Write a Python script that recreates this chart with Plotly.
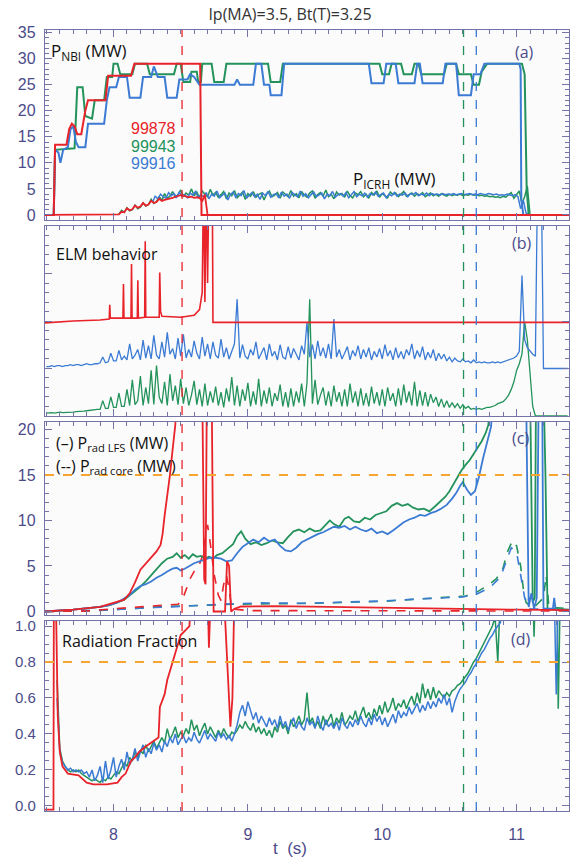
import numpy as np
import plotly.graph_objects as go
from plotly.subplots import make_subplots

RED = "#e8232a"
GREEN = "#23925b"
BLUE = "#3b7bd4"
ORANGE = "#f6a531"
AXC = "#7474a8"
TXC = "#4b4b8a"

t_range = [7.49, 11.39]
event_t = [8.51, 10.605, 10.70]

# ---------------- panel (a): P_NBI (MW) step traces (t, MW)
nbi_red = [(7.49, 0), (7.555, 0), (7.565, 13.5), (7.65, 13.5), (7.67, 16.5), (7.69, 17.5), (7.71, 17.0),
           (7.73, 15.5), (7.76, 15.5), (7.79, 20.0), (7.81, 22.0), (7.94, 22.0), (7.96, 26.7), (8.13, 26.7),
           (8.155, 29.0), (8.645, 29.0), (8.655, 0), (11.39, 0)]
nbi_green = [(7.49, 0), (7.555, 0), (7.565, 12.5), (7.71, 12.8), (7.73, 24.5), (7.77, 24.5), (7.79, 19.0),
             (7.84, 18.5), (7.86, 22.0), (7.93, 22.0), (7.95, 26.5), (7.99, 26.5), (8.00, 29.0), (8.03, 29.0),
             (8.05, 27.0), (8.14, 27.0), (8.16, 29.0), (8.25, 29.0), (8.27, 27.0), (8.45, 27.0), (8.47, 29.0),
             (8.50, 29.0), (8.52, 25.5), (8.57, 25.5), (8.58, 27.5), (8.62, 27.5), (8.63, 25.5), (8.65, 25.5),
             (8.66, 29.0), (8.73, 29.0), (8.75, 25.5), (8.82, 25.5), (8.84, 29.0), (9.15, 29.0), (9.17, 25.5),
             (9.24, 25.5), (9.26, 29.0), (9.98, 29.0), (10.00, 27.0), (10.05, 27.0), (10.07, 29.0), (10.14, 29.0),
             (10.16, 27.0), (10.22, 27.0), (10.24, 29.0), (10.27, 29.0), (10.29, 27.0), (10.46, 27.0),
             (10.48, 29.0), (10.55, 29.0), (10.57, 27.0), (10.66, 27.0), (10.68, 25.0), (10.72, 25.0),
             (10.74, 27.5), (10.78, 29.0), (11.04, 29.0), (11.06, 27.0), (11.075, 5.0), (11.09, 0), (11.39, 0)]
nbi_blue = [(7.49, 0), (7.555, 0), (7.565, 12.5), (7.59, 12.0), (7.605, 10.0), (7.625, 12.5), (7.66, 13.0),
            (7.68, 16.5), (7.70, 17.0), (7.72, 14.0), (7.74, 13.0), (7.79, 13.0), (7.81, 17.5), (7.93, 17.5),
            (7.95, 22.0), (7.97, 24.5), (8.02, 24.5), (8.04, 26.5), (8.10, 26.5), (8.12, 22.5), (8.20, 22.5),
            (8.22, 26.5), (8.28, 26.5), (8.30, 28.5), (8.33, 26.5), (8.38, 26.5), (8.40, 22.5), (8.47, 22.5),
            (8.49, 26.0), (8.55, 26.0), (8.57, 27.0), (8.60, 26.5), (8.64, 25.0), (8.90, 25.0), (8.92, 26.0),
            (8.94, 25.0), (9.04, 25.0), (9.06, 29.0), (9.10, 29.0), (9.12, 25.0), (9.16, 25.0), (9.17, 23.0),
            (9.25, 23.0), (9.27, 29.0), (9.90, 29.0), (9.92, 25.3), (10.01, 25.3), (10.03, 29.0), (10.10, 29.0),
            (10.12, 25.3), (10.24, 25.3), (10.26, 29.0), (10.28, 29.0), (10.30, 25.3), (10.45, 25.3),
            (10.47, 29.0), (10.55, 29.0), (10.57, 23.0), (10.66, 23.0), (10.68, 27.0), (10.73, 27.0),
            (10.76, 29.0), (11.02, 29.0), (11.03, 28.0), (11.035, 3.0), (11.05, 0), (11.39, 0)]

# ---------------- panel (a): P_ICRH (MW), sampled traces
icrh_red_start, icrh_red_step = 8.04, 0.02
icrh_red = [0.1, 0.6, 0.5, 1.3, 0.9, 1.1, 1.8, 1.4, 1.6, 2.3, 1.8, 2.0, 2.7, 2.3, 2.5, 3.1, 2.7, 2.9,
            3.0, 3.2, 3.3, 3.5, 3.6, 3.8, 3.7, 3.6, 3.4, 3.5, 3.3, 3.4, 3.3, 2.6, 3.9, 0.0]
icrh_red_edges = [(7.49, 0.0), (11.39, 0.0)]
icrh_green_start, icrh_green_step = 8.04, 0.02
icrh_green = [0.2, 0.9, 0.5, 1.4, 0.8, 1.0, 1.9, 1.2, 1.5, 2.3,
              1.7, 2.0, 3.0, 2.2, 2.6, 3.5, 2.8, 4.1, 3.2, 3.6,
              4.5, 3.4, 3.9, 4.8, 3.6, 4.2, 3.8, 5.0, 3.7, 4.4,
              3.3, 4.6, 4.0, 3.5, 4.9, 3.8, 4.3, 3.4, 3.9, 4.5,
              3.1, 4.2, 3.7, 4.7, 3.3, 3.8, 4.4, 3.0, 4.1, 3.6,
              4.5, 3.4, 3.9, 4.2, 2.9, 4.0, 4.6, 3.5, 3.8, 4.3,
              3.2, 4.4, 3.9, 3.5, 4.7, 3.6, 4.1, 3.3, 4.5, 3.8,
              3.4, 4.2, 4.6, 3.2, 3.9, 4.3, 3.6, 4.8, 3.5, 4.0,
              3.1, 4.4, 3.8, 4.1, 3.4, 4.6, 3.7, 3.3, 4.2, 3.9,
              4.5, 3.5, 4.0, 3.2, 4.3, 3.8, 4.6, 3.4, 4.1, 3.7,
              3.3, 4.4, 3.9, 4.2, 3.5, 4.0, 4.5, 3.6, 3.9, 4.2,
              3.6, 4.1, 3.8, 4.3, 3.5, 3.9, 4.2, 3.7, 4.0, 3.6,
              4.1, 3.8, 3.6, 4.0, 3.7, 3.9, 3.8, 4.0, 3.7, 3.9,
              3.8, 4.0, 3.8, 3.9, 3.7, 3.8, 3.6, 3.7, 3.5, 3.6,
              3.4, 3.5, 3.3, 3.6, 3.4, 3.9, 4.3, 3.2, 4.0, 4.6,
              2.2, 3.5, 5.5, 0.0]
icrh_blue_start, icrh_blue_step = 8.29, 0.02
icrh_blue = [2.4, 3.6, 3.1, 4.0, 3.5, 3.2, 4.3, 3.7, 4.1, 3.4,
             4.4, 3.6, 3.9, 3.3, 4.2, 3.8, 4.5, 3.4, 3.9, 3.5,
             4.3, 3.1, 4.0, 3.6, 4.6, 3.3, 3.8, 4.2, 2.9, 3.9,
             4.4, 3.4, 4.1, 3.7, 4.7, 3.2, 3.8, 4.3, 3.5, 4.0,
             3.0, 4.2, 3.7, 4.5, 3.4, 3.9, 4.1, 3.3, 4.4, 3.6,
             4.0, 3.2, 4.3, 3.8, 3.5, 4.6, 3.6, 4.1, 3.3, 3.9,
             4.4, 3.5, 3.8, 4.2, 3.1, 4.0, 3.7, 4.5, 3.4, 3.9,
             4.1, 3.6, 4.3, 3.3, 3.9, 4.5, 3.5, 4.0, 3.7, 4.2,
             3.4, 4.1, 3.8, 4.4, 3.6, 3.9, 4.2, 3.3, 4.0, 3.7,
             4.3, 3.6, 4.0, 3.8, 4.2, 3.5, 4.1, 3.9, 4.3, 3.7,
             4.0, 3.8, 4.2, 3.7, 4.1, 3.9, 4.0, 3.8, 4.1, 3.9,
             4.0, 3.9, 4.1, 3.9, 4.0, 4.1, 3.9, 4.0, 4.1, 3.9,
             4.0, 3.9, 4.1, 4.0, 3.9, 4.1, 4.0, 3.9, 4.0, 3.8,
             3.9, 3.8, 4.0, 3.9, 3.7, 3.9, 3.5, 1.2, 2.8, 0.4,
             0.0]

# ---------------- panel (b): ELM behaviour (arb. units)
elm_red = [(7.49, 9.8), (7.70, 10.0), (7.90, 10.1), (7.968, 10.2), (7.972, 11.7), (7.976, 10.3), (8.07, 10.3),
           (8.074, 13.9), (8.078, 10.3), (8.13, 10.3), (8.134, 16.0), (8.138, 10.3), (8.177, 10.3), (8.181, 14.3),
           (8.185, 10.3), (8.232, 10.4), (8.236, 18.4), (8.240, 10.4), (8.340, 10.4), (8.344, 15.1), (8.35, 11.0),
           (8.36, 10.5), (8.50, 10.4), (8.60, 10.6), (8.64, 11.2), (8.66, 13.0), (8.67, 25.0), (8.68, 12.0),
           (8.69, 25.0), (8.70, 14.0), (8.71, 25.0), (8.735, 25.0), (8.74, 9.85), (11.39, 9.85)]
elm_start, elm_step = 7.50, 0.02
elm_blue = [5.2, 5.2, 5.3, 5.2, 5.3, 5.3, 5.2, 5.3, 5.3, 5.4,
            5.3, 5.4, 5.4, 5.3, 5.4, 5.5, 5.4, 5.4, 5.5, 5.5,
            5.6, 6.2, 5.6, 5.7, 6.6, 5.8, 5.8, 6.9, 5.9, 6.3,
            5.9, 7.6, 6.0, 6.4, 7.0, 5.9, 8.0, 6.1, 7.4, 6.0,
            8.5, 6.4, 6.0, 7.8, 6.2, 8.8, 6.5, 7.1, 6.0, 8.2,
            6.3, 8.6, 6.1, 7.0, 6.2, 7.9, 6.6, 6.0, 8.3, 6.3,
            7.6, 6.0, 7.8, 6.4, 6.1, 8.1, 6.2, 7.2, 6.0, 6.8,
            7.6, 12.3, 6.1, 7.5, 6.3, 6.0, 7.0, 6.4, 7.8, 6.0,
            6.6, 7.2, 5.9, 7.6, 6.3, 6.8, 5.9, 7.5, 6.2, 6.0,
            7.3, 6.1, 7.1, 6.4, 5.9, 7.4, 6.5, 9.9, 6.2, 7.5,
            6.0, 7.9, 6.3, 7.2, 6.1, 7.6, 6.0, 10.2, 6.2, 7.0,
            6.0, 6.6, 7.3, 5.9, 6.9, 6.3, 7.4, 6.0, 7.0, 6.2,
            7.2, 5.9, 6.8, 6.2, 7.1, 6.0, 7.5, 6.3, 6.9, 5.9,
            7.2, 6.1, 6.8, 6.0, 7.0, 6.4, 7.6, 6.0, 6.9, 6.2,
            7.3, 5.9, 6.7, 6.1, 7.0, 5.8, 6.6, 6.0, 6.5, 5.8,
            6.2, 5.7, 6.1, 5.8, 5.7, 6.0, 5.7, 5.8, 5.6, 5.9,
            5.6, 5.7, 5.6, 5.7, 5.6, 5.6, 5.7, 5.6, 5.7, 5.6,
            5.7, 5.8, 5.9, 6.0, 6.1, 6.3, 6.8, 14.8, 8.0, 7.2,
            6.8, 6.5, 6.3, 30.0, 30.0, 5.0, 5.0, 5.0, 5.0, 5.0,
            5.0, 5.0, 5.0, 5.0, 5.0]
elm_green = [0.3, 0.35, 0.35, 0.3, 0.35, 0.4, 0.35, 0.35, 0.4, 0.4,
             0.4, 0.45, 0.45, 0.5, 0.5, 0.55, 0.6, 0.6, 0.65, 0.7,
             0.7, 1.6, 0.8, 0.8, 2.0, 0.9, 0.9, 2.4, 1.0, 1.0,
             2.8, 1.1, 3.8, 1.2, 1.6, 4.2, 1.1, 3.0, 1.3, 4.8,
             1.2, 5.3, 2.0, 1.3, 3.6, 1.1, 4.4, 1.6, 3.2, 1.2,
             3.9, 1.3, 3.0, 1.1, 2.2, 3.7, 1.2, 2.8, 1.0, 3.4,
             1.1, 2.6, 1.4, 3.1, 1.1, 2.5, 0.9, 2.9, 1.5, 4.1,
             1.1, 3.2, 1.0, 2.8, 1.6, 3.5, 1.0, 2.6, 1.2, 3.9,
             1.0, 2.7, 1.3, 3.0, 1.0, 2.4, 1.6, 3.3, 1.0, 2.5,
             0.9, 2.9, 1.0, 2.6, 1.4, 3.4, 1.0, 3.5, 12.3, 1.3,
             3.8, 1.2, 2.2, 3.0, 1.1, 2.6, 1.0, 3.2, 1.5, 2.5,
             1.0, 2.8, 1.0, 3.4, 1.4, 2.6, 1.0, 2.9, 1.1, 2.4,
             1.0, 3.1, 1.3, 2.5, 1.1, 2.8, 1.0, 3.0, 1.6, 2.4,
             1.0, 2.9, 1.1, 3.3, 1.4, 2.6, 1.1, 3.6, 1.0, 2.7,
             1.1, 2.5, 1.0, 2.3, 1.4, 2.0, 1.0, 1.8, 0.9, 1.6,
             0.9, 1.4, 0.9, 1.3, 0.8, 1.2, 0.8, 1.0, 0.7, 0.8,
             0.7, 0.8, 0.7, 0.8, 0.9, 0.9, 1.0, 1.1, 1.3, 1.4,
             1.5, 1.8, 2.2, 2.8, 3.6, 4.8, 5.5, 6.5, 9.9, 8.0,
             4.0, 1.0, 0.0, 0.0, 0.0, 0.0, 0.0, 0.0, 0.0, 0.0,
             0.0, 0.0, 0.0, 0.0, 0.0]

# ---------------- panel (c): P_rad LFS (solid) and P_rad core (dashed), MW
lfs_red = [(7.49, 0), (7.70, 0.2), (7.90, 0.5), (7.97, 0.8), (8.03, 1.0), (8.08, 1.3), (8.12, 2.0), (8.16, 3.2),
           (8.20, 4.6), (8.24, 5.3), (8.28, 5.9), (8.32, 6.6), (8.35, 7.3), (8.365, 8.5), (8.38, 10.5),
           (8.40, 12.5), (8.42, 15.0), (8.44, 17.8), (8.46, 20.5), (8.47, 25.0), (8.66, 25.0), (8.675, 3.5),
           (8.685, 3.0), (8.695, 25.0), (8.73, 25.0), (8.745, 0.0), (8.83, 0.0), (8.845, 5.5), (8.86, 5.0),
           (8.875, 0.0), (8.90, 0.3), (8.95, 0.55), (9.2, 0.6), (9.6, 0.5), (10.0, 0.4), (10.5, 0.3),
           (11.0, 0.2), (11.39, 0.15)]
lfs_green = [(7.49, 0.0), (7.70, 0.2), (7.90, 0.5), (7.97, 0.7), (8.03, 1.0), (8.08, 1.3), (8.13, 1.9),
             (8.19, 2.6), (8.24, 3.3), (8.28, 4.0), (8.32, 4.7), (8.36, 5.3), (8.40, 5.8), (8.44, 6.0),
             (8.47, 6.4), (8.50, 5.9), (8.53, 6.2), (8.56, 5.8), (8.59, 6.3), (8.62, 6.0), (8.65, 6.1),
             (8.68, 5.8), (8.71, 6.0), (8.74, 5.8), (8.77, 6.2), (8.81, 6.4), (8.85, 6.9), (8.89, 7.4),
             (8.92, 8.3), (8.95, 8.8), (8.98, 8.0), (9.02, 7.4), (9.06, 7.6), (9.10, 7.3), (9.14, 7.5),
             (9.18, 7.8), (9.22, 7.6), (9.26, 7.5), (9.30, 8.2), (9.34, 8.8), (9.38, 9.0), (9.42, 8.7),
             (9.46, 9.1), (9.50, 8.8), (9.54, 8.9), (9.58, 9.5), (9.61, 10.0), (9.64, 9.6), (9.68, 9.3),
             (9.72, 10.2), (9.75, 10.4), (9.79, 9.9), (9.83, 9.8), (9.87, 10.3), (9.91, 10.1), (9.95, 10.6),
             (9.99, 10.8), (10.03, 11.0), (10.07, 11.6), (10.11, 11.9), (10.15, 11.6), (10.19, 11.8),
             (10.23, 11.4), (10.27, 11.2), (10.31, 11.3), (10.35, 11.0), (10.39, 11.5), (10.43, 12.0),
             (10.47, 12.6), (10.50, 13.2), (10.53, 14.0), (10.56, 14.8), (10.59, 15.5), (10.62, 16.1),
             (10.65, 16.6), (10.68, 17.3), (10.71, 18.0), (10.74, 18.7), (10.77, 19.6), (10.79, 20.5),
             (10.81, 25.0), (11.10, 25.0), (11.12, 1.0), (11.135, 1.5), (11.145, 25.0), (11.20, 25.0),
             (11.215, 14.8), (11.23, 0.3), (11.39, 0.2)]
lfs_blue = [(7.49, 0), (7.70, 0.2), (7.90, 0.5), (7.97, 0.7), (8.03, 1.0), (8.08, 1.4), (8.12, 1.8),
            (8.16, 2.4), (8.20, 2.8), (8.24, 3.0), (8.28, 3.3), (8.32, 3.7), (8.36, 4.0), (8.40, 4.4),
            (8.44, 4.7), (8.47, 4.8), (8.50, 4.5), (8.53, 4.7), (8.56, 5.0), (8.60, 5.3), (8.64, 5.5),
            (8.68, 5.7), (8.72, 5.9), (8.76, 5.9), (8.80, 5.8), (8.84, 5.5), (8.88, 5.6), (8.92, 6.4),
            (8.96, 7.1), (9.00, 7.5), (9.04, 7.9), (9.08, 7.6), (9.12, 8.1), (9.16, 7.7), (9.20, 7.9),
            (9.24, 7.2), (9.28, 6.7), (9.32, 6.6), (9.36, 7.0), (9.40, 7.6), (9.44, 7.9), (9.48, 8.2),
            (9.52, 8.5), (9.56, 8.7), (9.60, 9.0), (9.64, 9.3), (9.68, 9.2), (9.72, 9.4), (9.76, 9.0),
            (9.80, 9.3), (9.84, 9.0), (9.88, 8.8), (9.92, 9.1), (9.96, 8.6), (10.00, 8.8), (10.04, 8.5),
            (10.08, 8.9), (10.12, 9.3), (10.16, 9.8), (10.20, 10.1), (10.24, 10.3), (10.28, 10.6),
            (10.32, 10.5), (10.36, 10.8), (10.40, 11.0), (10.44, 11.3), (10.48, 11.7), (10.52, 12.4),
            (10.55, 13.0), (10.58, 13.8), (10.60, 14.2), (10.63, 13.4), (10.66, 12.8), (10.69, 13.2),
            (10.72, 14.8), (10.75, 16.8), (10.78, 18.6), (10.81, 20.3), (10.83, 25.0), (11.07, 25.0),
            (11.09, 0.5), (11.11, 2.0), (11.13, 0.3), (11.15, 1.5), (11.165, 25.0), (11.19, 25.0),
            (11.20, 0.3), (11.27, 0.3), (11.28, 1.5), (11.29, 0.2), (11.39, 0.1)]
core_red = [(7.49, 0), (7.8, 0.05), (8.0, 0.3), (8.2, 0.5), (8.4, 0.7), (8.48, 0.8), (8.51, 1.2), (8.54, 2.5),
            (8.57, 3.6), (8.60, 4.4), (8.63, 4.8), (8.66, 6.0), (8.68, 8.0), (8.70, 9.5), (8.72, 7.5),
            (8.75, 4.0), (8.78, 1.8), (8.80, 1.2), (8.82, 3.0), (8.84, 4.0), (8.86, 2.5), (8.88, 0.3),
            (9.0, 0.1), (11.39, 0.05)]
core_green = [(7.49, 0), (7.8, 0.05), (8.0, 0.2), (8.2, 0.4), (8.4, 0.55), (8.5, 0.6), (8.7, 0.7), (8.9, 0.8),
              (9.2, 0.85), (9.5, 0.9), (9.8, 1.05), (10.0, 1.1), (10.2, 1.3), (10.4, 1.5), (10.55, 1.6),
              (10.62, 1.7), (10.7, 2.1), (10.78, 2.8), (10.85, 3.6), (10.9, 4.8), (10.93, 6.5), (10.97, 7.8),
              (11.0, 7.2), (11.03, 5.0), (11.05, 2.5), (11.07, 1.0), (11.12, 0.3), (11.2, 1.5), (11.22, 4.0),
              (11.24, 0.5), (11.39, 0.3)]
core_blue = [(7.49, 0), (8.0, 0.2), (8.3, 0.45), (8.5, 0.55), (8.8, 0.8), (9.1, 0.95), (9.4, 0.9), (9.7, 1.0),
             (10.0, 1.15), (10.3, 1.4), (10.5, 1.55), (10.6, 1.6), (10.7, 1.9), (10.8, 2.6), (10.88, 3.8),
             (10.92, 5.5), (10.96, 7.0), (11.0, 6.5), (11.03, 4.0), (11.06, 1.5), (11.1, 0.3), (11.39, 0.2)]
prad_limit = 15.0

# ---------------- panel (d): radiation fraction
frad_red = [(7.49, -0.02), (7.553, -0.02), (7.556, 1.2), (7.57, 1.2), (7.585, 0.5), (7.60, 0.3), (7.62, 0.22),
            (7.66, 0.18), (7.74, 0.17), (7.77, 0.15), (7.80, 0.13), (7.85, 0.12), (7.95, 0.12), (8.03, 0.13),
            (8.06, 0.16), (8.09, 0.18), (8.11, 0.22), (8.13, 0.25), (8.16, 0.27), (8.19, 0.30), (8.24, 0.33),
            (8.28, 0.35), (8.32, 0.37), (8.335, 0.38), (8.345, 0.55), (8.38, 0.62), (8.40, 0.70), (8.44, 0.80),
            (8.47, 0.87), (8.50, 0.95), (8.54, 0.98), (8.565, 1.0), (8.58, 1.2), (8.70, 1.2), (8.71, 0.88),
            (8.725, 1.2), (8.82, 1.2), (8.85, 0.7), (8.87, 0.44), (8.885, 0.6), (8.90, 1.2), (8.92, 1.2)]
frad_start, frad_step = 7.58, 0.02
frad_blue = [0.6, 0.3, 0.24, 0.22, 0.2, 0.21, 0.19, 0.2, 0.19, 0.2,
             0.18, 0.19, 0.16, 0.2, 0.14, 0.17, 0.22, 0.13, 0.25, 0.15,
             0.2, 0.27, 0.16, 0.22, 0.26, 0.2, 0.3, 0.23, 0.26, 0.32,
             0.25, 0.3, 0.34, 0.27, 0.32, 0.29, 0.35, 0.31, 0.34, 0.3,
             0.36, 0.33, 0.38, 0.35, 0.4, 0.34, 0.37, 0.39, 0.35, 0.38,
             0.36, 0.41, 0.37, 0.35, 0.39, 0.42, 0.37, 0.4, 0.38, 0.36,
             0.41, 0.38, 0.4, 0.37, 0.39, 0.36, 0.4, 0.45, 0.52, 0.56,
             0.5, 0.58, 0.53, 0.48, 0.52, 0.46, 0.5, 0.47, 0.44, 0.49,
             0.45, 0.48, 0.43, 0.5, 0.44, 0.47, 0.42, 0.46, 0.49, 0.43,
             0.47, 0.44, 0.42, 0.49, 0.45, 0.47, 0.43, 0.5, 0.45, 0.42,
             0.48, 0.44, 0.46, 0.43, 0.47, 0.42, 0.49, 0.45, 0.43, 0.47,
             0.44, 0.48, 0.45, 0.5, 0.46, 0.44, 0.49, 0.45, 0.51, 0.47,
             0.5, 0.45, 0.49, 0.44, 0.48, 0.51, 0.46, 0.53, 0.49, 0.52,
             0.5, 0.55, 0.51, 0.54, 0.57, 0.52, 0.56, 0.53, 0.58, 0.54,
             0.58, 0.55, 0.6, 0.57, 0.62, 0.56, 0.6, 0.52, 0.58, 0.62,
             0.65, 0.67, 0.69, 0.72, 0.74, 0.77, 0.79, 0.82, 0.85, 0.87,
             0.9, 0.93, 0.95, 0.98, 1.0, 1.02, 1.2]
frad_green = [0.7, 0.32, 0.25, 0.22, 0.2, 0.19, 0.2, 0.19, 0.2, 0.18,
              0.17, 0.16, 0.15, 0.14, 0.15, 0.14, 0.13, 0.15, 0.14, 0.16,
              0.15, 0.17, 0.19, 0.18, 0.21, 0.24, 0.22, 0.27, 0.25, 0.3,
              0.27, 0.31, 0.29, 0.34, 0.3, 0.33, 0.36, 0.32, 0.35, 0.38,
              0.35, 0.43, 0.37, 0.4, 0.44, 0.38, 0.41, 0.39, 0.43, 0.4,
              0.48, 0.42, 0.45, 0.39, 0.43, 0.46, 0.4, 0.44, 0.41, 0.38,
              0.42, 0.39, 0.43, 0.4, 0.38, 0.41, 0.4, 0.42, 0.45, 0.43,
              0.47, 0.44, 0.42, 0.46, 0.41, 0.44, 0.4, 0.43, 0.39, 0.42,
              0.38, 0.44, 0.41, 0.47, 0.43, 0.45, 0.4, 0.48, 0.44, 0.46,
              0.5, 0.45, 0.48, 0.63, 0.46, 0.49, 0.44, 0.47, 0.43, 0.5,
              0.45, 0.48, 0.51, 0.44, 0.49, 0.46, 0.52, 0.45, 0.47, 0.5,
              0.48, 0.53, 0.47, 0.51, 0.55, 0.49, 0.52, 0.48, 0.54, 0.5,
              0.56, 0.51, 0.58, 0.52, 0.55, 0.6, 0.53, 0.57, 0.55, 0.59,
              0.54, 0.58, 0.61, 0.56, 0.63, 0.57, 0.68, 0.6, 0.65, 0.59,
              0.66, 0.6, 0.64, 0.62, 0.6, 0.63, 0.61, 0.64, 0.65, 0.67,
              0.68, 0.7, 0.72, 0.74, 0.77, 0.8, 0.82, 0.85, 0.88, 0.91,
              0.94, 0.97, 1.0, 1.05, 0.8, 1.2]
frad_blue_tail = [(10.94, 1.2), (11.28, 1.2), (11.295, 0.62), (11.31, 1.2), (11.39, 1.2)]
frad_green_tail = [(10.92, 1.2), (11.12, 1.2), (11.13, 0.94), (11.14, 1.2), (11.30, 1.2), (11.31, 0.54),
                   (11.325, 1.2), (11.39, 1.2)]
frad_limit = 0.8

shot_labels = ["99878", "99943", "99916"]


def pairs(p):
    t, v = zip(*p)
    return list(t), list(v)


def grid(start, step, vals):
    return start + step * np.arange(len(vals)), vals


fig = make_subplots(rows=4, cols=1, shared_xaxes=True, vertical_spacing=0.01)


def line(t, v, color, row, width=1.8, dash=None):
    fig.add_trace(go.Scatter(x=t, y=v, mode="lines", line=dict(color=color, width=width, dash=dash),
                             showlegend=False, hoverinfo="skip"), row=row, col=1)


# panel a
tg, vg = grid(icrh_green_start, icrh_green_step, icrh_green)
line(tg, vg, GREEN, 1, 1.5)
tb, vb = grid(icrh_blue_start, icrh_blue_step, icrh_blue)
line(tb, vb, BLUE, 1, 1.5)
line(*pairs(nbi_green), GREEN, 1, 2)
line(*pairs(nbi_blue), BLUE, 1, 2)
tr, vr = grid(icrh_red_start, icrh_red_step, icrh_red)
et, ev = pairs(icrh_red_edges)
line([et[0]] + list(tr) + [et[1]], [ev[0]] + list(vr) + [ev[1]], RED, 1, 1.8)
line(*pairs(nbi_red), RED, 1, 2)

# panel b
t, v = grid(elm_start, elm_step, elm_green)
line(t, v, GREEN, 2, 1.3)
t, v = grid(elm_start, elm_step, elm_blue)
line(t, v, BLUE, 2, 1.3)
line(*pairs(elm_red), RED, 2, 1.6)

# panel c
line(*pairs(core_green), GREEN, 3, 1.6, "dash")
line(*pairs(core_blue), BLUE, 3, 1.6, "dash")
line(*pairs(core_red), RED, 3, 1.6, "dash")
line(*pairs(lfs_green), GREEN, 3, 1.8)
line(*pairs(lfs_blue), BLUE, 3, 1.8)
line(*pairs(lfs_red), RED, 3, 1.8)

# panel d
t, v = grid(frad_start, frad_step, frad_green)
tt, vt = pairs(frad_green_tail)
line(list(t) + tt, list(v) + vt, GREEN, 4, 1.5)
t, v = grid(frad_start, frad_step, frad_blue)
tt, vt = pairs(frad_blue_tail)
line(list(t) + tt, list(v) + vt, BLUE, 4, 1.5)
line(*pairs(frad_red), RED, 4, 1.8)

# layout axes
domains = [[0.7567, 1.0], [0.5058, 0.749], [0.251, 0.498], [0.0, 0.2433]]
yranges = [[-0.97, 35.5], [0, 20], [-0.38, 20.8], [-0.028, 1.028]]
ydticks = [5, 5, 5, 0.2]
yminor = [1, 1, 1, 0.05]
for i in range(4):
    fig.update_yaxes(row=i + 1, col=1, domain=domains[i], range=yranges[i], dtick=ydticks[i], tick0=0,
                     ticks="inside", ticklen=7, tickcolor=AXC, tickwidth=1,
                     minor=dict(dtick=yminor[i], ticks="inside", ticklen=4, tickcolor=AXC),
                     showline=True, linecolor=AXC, linewidth=1.3, mirror="ticks", showgrid=False,
                     zeroline=False, showticklabels=(i != 1), ticklabelstandoff=5,
                     tickfont=dict(family="Liberation Sans", size=16, color=TXC))
fig.update_yaxes(row=4, col=1, tickformat=".1f", tickfont=dict(family="Liberation Sans", size=15, color=TXC))
for i in range(4):
    fig.update_xaxes(row=i + 1, col=1, range=t_range, dtick=1, tick0=8, ticks="inside", ticklen=7,
                     tickcolor=AXC, minor=dict(dtick=0.1, ticks="inside", ticklen=4, tickcolor=AXC),
                     showline=True, linecolor=AXC, linewidth=1.3, mirror="ticks", showgrid=False,
                     zeroline=False, ticklabelstandoff=9,
                     tickfont=dict(family="Liberation Sans", size=16, color=TXC))

# vertical event markers and limits
for tv, c in zip(event_t, [RED, GREEN, BLUE]):
    fig.add_shape(type="line", xref="x4", yref="paper", x0=tv, x1=tv, y0=0, y1=1,
                  line=dict(color=c, width=1.3, dash="dash"))
fig.add_shape(type="line", xref="paper", yref="y3", x0=0, x1=1, y0=prad_limit, y1=prad_limit,
              line=dict(color=ORANGE, width=2, dash="dash"))
fig.add_shape(type="line", xref="paper", yref="y4", x0=0, x1=1, y0=frad_limit, y1=frad_limit,
              line=dict(color=ORANGE, width=2, dash="dash"))

ann = []
TF = "Open Sans"
ann.append(dict(xref="x", yref="y", x=7.52, y=31.3, text="P<sub>NBI</sub> (MW)", showarrow=False,
                xanchor="left", font=dict(family=TF, size=17, color="#111")))
ann.append(dict(xref="x", yref="y", x=10.09, y=6.8, text="P<sub>ICRH</sub> (MW)", showarrow=False,
                xanchor="center", font=dict(family=TF, size=17, color="#111")))
ann.append(dict(xref="x", yref="y", x=11.06, y=31.3, text="(a)", showarrow=False,
                font=dict(family=TF, size=16, color=TXC)))
for lab, c, yy in zip(shot_labels, [RED, GREEN, BLUE], [16.6, 13.2, 9.8]):
    ann.append(dict(xref="x", yref="y", x=8.48, y=yy, text=lab, showarrow=False, xanchor="right",
                    font=dict(family="Liberation Sans", size=16, color=c)))
ann.append(dict(xref="x2", yref="y2", x=7.56, y=17.1, text="ELM behavior", showarrow=False, xanchor="left",
                font=dict(family=TF, size=16, color="#111")))
ann.append(dict(xref="x2", yref="y2", x=11.04, y=18.2, text="(b)", showarrow=False,
                font=dict(family=TF, size=16, color=TXC)))
ann.append(dict(xref="x3", yref="y3", x=7.56, y=18.4, text="(–) P<sub>rad LFS</sub> (MW)", showarrow=False,
                xanchor="left", font=dict(family=TF, size=16, color="#111")))
ann.append(dict(xref="x3", yref="y3", x=7.56, y=15.9, text="(--) P<sub>rad core</sub> (MW)", showarrow=False,
                xanchor="left", font=dict(family=TF, size=16, color="#111")))
ann.append(dict(xref="x3", yref="y3", x=11.03, y=19.0, text="(c)", showarrow=False,
                font=dict(family=TF, size=16, color=TXC)))
ann.append(dict(xref="x4", yref="y4", x=7.6, y=0.915, text="Radiation Fraction", showarrow=False,
                xanchor="left", font=dict(family=TF, size=16, color="#111")))
ann.append(dict(xref="x4", yref="y4", x=11.03, y=0.93, text="(d)", showarrow=False,
                font=dict(family=TF, size=16, color=TXC)))
ann.append(dict(xref="paper", yref="paper", x=0.468, y=0, yshift=-37, text="t  (s)", showarrow=False,
                yanchor="middle", font=dict(family="Liberation Sans", size=17, color=TXC)))

fig.update_layout(
    width=572, height=862,
    margin=dict(l=45, r=3, t=30, b=51),
    paper_bgcolor="white", plot_bgcolor="#fbfbfb",
    title=dict(text="Ip(MA)=3.5, Bt(T)=3.25", x=0.507, xref="container", y=1 - 14 / 862,
               yref="container", yanchor="middle", font=dict(family=TF, size=16, color="#333")),
    annotations=ann, showlegend=False,
)

fig.write_html("out.html")
